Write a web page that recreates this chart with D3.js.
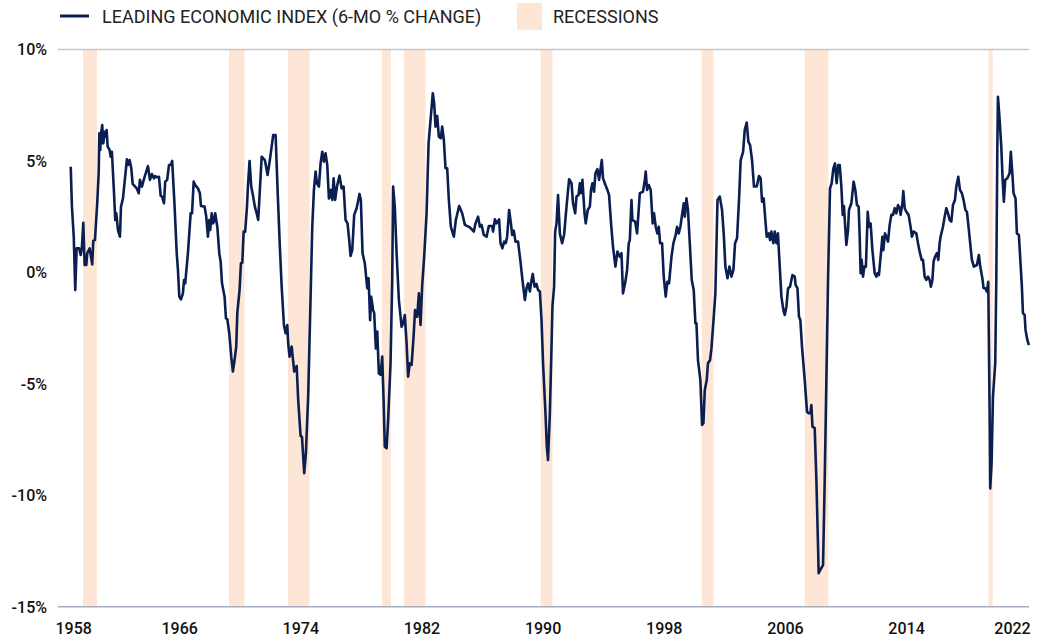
<!DOCTYPE html>
<html>
<head>
<meta charset="utf-8">
<script src="https://cdn.jsdelivr.net/npm/d3@7"></script>
<style>
body { margin: 0; background: #fff; }
.cont text { font-family: Roboto, "Noto Sans", sans-serif; }
.axis text { font-size: 16px; font-weight: 500; fill: #111; }
.legend text { font-size: 18px; fill: #222; }
</style>
</head>
<body>
<div class="cont"></div>
<script>

// leading economic index, 6-month % change (decimal year, value)
var lei = [
[1959.44,4.74],[1959.52,2.95],[1959.64,1.60],[1959.74,-0.79],[1959.83,1.08],[1959.99,1.08],[1960.10,0.78],[1960.18,1.15],[1960.27,2.23],[1960.36,0.33],[1960.47,0.33],[1960.53,0.86],[1960.69,1.08],[1960.86,0.36],[1960.93,1.42],[1961.04,1.45],[1961.19,3.10],[1961.29,4.52],[1961.33,6.24],[1961.39,5.49],[1961.46,6.31],[1961.52,6.61],[1961.59,5.79],[1961.68,6.31],[1961.75,6.09],[1961.81,6.39],[1961.88,5.64],[1962.01,5.49],[1962.08,5.19],[1962.16,5.41],[1962.30,3.55],[1962.38,2.35],[1962.45,2.65],[1962.56,1.90],[1962.69,1.60],[1962.76,2.95],[1962.89,3.32],[1963.15,5.07],[1963.24,4.82],[1963.33,5.04],[1963.44,4.67],[1963.53,3.97],[1963.80,3.77],[1963.93,3.55],[1964.01,4.15],[1964.14,3.85],[1964.32,4.29],[1964.54,4.77],[1964.67,4.15],[1964.80,4.41],[1964.94,4.22],[1965.02,4.32],[1965.13,4.27],[1965.27,4.29],[1965.38,3.43],[1965.47,3.40],[1965.60,3.10],[1965.68,4.07],[1965.81,4.15],[1965.93,4.82],[1966.04,4.82],[1966.14,5.00],[1966.30,2.95],[1966.44,0.86],[1966.52,0.11],[1966.61,-1.09],[1966.72,-1.21],[1966.85,-0.94],[1966.92,-0.34],[1967.00,-0.49],[1967.18,0.86],[1967.36,2.65],[1967.45,2.65],[1967.56,4.07],[1967.66,3.92],[1967.84,3.77],[1967.97,3.55],[1968.04,2.98],[1968.28,2.95],[1968.39,2.50],[1968.50,1.60],[1968.59,2.35],[1968.65,1.90],[1968.75,2.65],[1968.83,2.20],[1968.90,2.28],[1968.98,2.65],[1969.12,2.05],[1969.25,0.86],[1969.34,0.48],[1969.43,-0.49],[1969.60,-1.09],[1969.69,-2.06],[1969.78,-2.10],[1969.91,-2.73],[1970.04,-3.78],[1970.15,-4.45],[1970.26,-3.93],[1970.37,-3.33],[1970.44,-1.83],[1970.59,-0.79],[1970.68,0.41],[1970.77,0.44],[1970.86,1.83],[1970.96,1.83],[1971.08,2.95],[1971.14,3.85],[1971.25,5.00],[1971.36,3.85],[1971.47,3.47],
[1971.60,2.95],[1971.72,2.65],[1971.82,2.35],[1971.93,3.70],[1972.05,5.19],[1972.26,5.04],[1972.44,4.37],[1972.59,5.04],[1972.81,6.16],[1972.97,6.16],[1973.10,3.70],[1973.25,1.15],[1973.37,-0.64],[1973.52,-2.36],[1973.63,-2.73],[1973.74,-2.36],[1973.80,-3.18],[1973.89,-3.78],[1974.03,-3.33],[1974.20,-4.45],[1974.36,-4.20],[1974.46,-5.72],[1974.62,-7.34],[1974.71,-7.37],[1974.86,-9.01],[1974.97,-8.12],[1975.12,-5.58],[1975.28,-1.09],[1975.39,2.05],[1975.50,3.70],[1975.61,4.52],[1975.70,4.00],[1975.83,3.85],[1975.94,4.89],[1976.05,5.41],[1976.16,4.97],[1976.27,5.34],[1976.38,4.82],[1976.49,3.32],[1976.62,3.70],[1976.71,3.25],[1976.80,4.22],[1976.90,3.25],[1977.02,3.85],[1977.19,4.34],[1977.33,3.77],[1977.46,3.85],[1977.59,2.35],[1977.72,2.20],[1977.83,1.45],[1977.92,0.74],[1978.03,1.00],[1978.16,2.58],[1978.32,2.88],[1978.51,3.52],[1978.60,3.25],[1978.71,0.86],[1978.86,0.41],[1979.02,-0.71],[1979.11,-0.26],[1979.21,-2.14],[1979.28,-1.09],[1979.41,-1.69],[1979.48,-1.83],[1979.59,-3.41],[1979.68,-2.66],[1979.79,-4.53],[1979.90,-4.60],[1980.01,-3.78],[1980.10,-5.72],[1980.18,-7.82],[1980.30,-7.89],[1980.40,-6.62],[1980.56,-4.08],[1980.67,-0.34],[1980.73,3.85],[1980.84,2.95],[1980.96,0.86],[1981.11,-1.24],[1981.29,-2.44],[1981.39,-2.28],[1981.50,-1.91],[1981.62,-3.18],[1981.72,-4.68],[1981.83,-4.08],[1981.95,-4.15],[1982.08,-2.88],[1982.18,-1.69],[1982.32,-1.99],[1982.43,-0.94],[1982.54,-2.36],[1982.65,-0.57],[1982.78,0.70],[1982.94,2.65],[1983.07,5.79],[1983.22,6.99],[1983.35,8.04],[1983.44,7.59],[1983.53,6.54],[1983.64,7.02],[1983.75,6.09],[1983.88,6.02],[1983.97,6.54],[1984.08,5.94],[1984.19,4.67],[1984.30,4.67],[1984.41,3.25],
[1984.54,2.05],[1984.74,1.60],[1984.87,2.35],[1985.09,2.98],[1985.29,2.65],[1985.47,2.13],[1985.80,2.02],[1986.06,1.83],[1986.17,2.20],[1986.34,2.50],[1986.46,2.05],[1986.57,2.13],[1986.72,1.68],[1986.90,1.60],[1987.05,2.08],[1987.27,2.08],[1987.33,1.83],[1987.45,2.38],[1987.56,2.20],[1987.73,2.38],[1987.82,1.31],[1987.95,1.08],[1988.06,1.38],[1988.17,1.31],[1988.26,1.60],[1988.39,2.80],[1988.52,2.13],[1988.59,1.68],[1988.70,1.87],[1988.81,1.38],[1988.98,1.38],[1989.14,0.48],[1989.27,-0.34],[1989.43,-1.24],[1989.54,-0.71],[1989.64,-0.49],[1989.76,-0.86],[1989.87,-0.34],[1989.95,-0.07],[1990.07,-0.64],[1990.20,-0.52],[1990.30,-0.79],[1990.42,-0.86],[1990.53,-2.14],[1990.63,-4.08],[1990.79,-6.32],[1990.88,-7.82],[1990.96,-8.42],[1991.08,-6.32],[1991.19,-3.33],[1991.25,-1.54],[1991.36,-0.64],[1991.43,1.83],[1991.52,2.20],[1991.62,3.47],[1991.74,1.75],[1991.89,1.31],[1992.02,1.68],[1992.18,2.95],[1992.35,4.18],[1992.51,4.00],[1992.61,3.10],[1992.75,2.65],[1992.84,3.40],[1992.97,3.47],[1993.06,4.00],[1993.14,3.55],[1993.23,4.15],[1993.37,2.65],[1993.45,2.20],[1993.58,2.80],[1993.72,2.95],[1993.80,3.70],[1993.89,4.00],[1994.00,3.62],[1994.09,4.45],[1994.22,4.63],[1994.33,4.15],[1994.42,4.59],[1994.51,5.04],[1994.59,4.22],[1994.75,3.92],[1994.88,3.70],[1994.99,3.47],[1995.12,2.20],[1995.25,1.15],[1995.41,0.26],[1995.54,0.93],[1995.70,0.70],[1995.81,0.86],[1995.91,-0.94],[1996.05,-0.49],[1996.18,0.11],[1996.29,1.31],[1996.36,1.45],[1996.47,3.25],[1996.53,2.35],[1996.71,2.28],[1996.84,1.75],[1997.02,3.55],[1997.23,3.62],[1997.35,4.15],[1997.41,4.52],[1997.50,3.70],[1997.61,3.92],
[1997.74,3.70],[1997.87,2.20],[1997.96,2.65],[1998.07,2.05],[1998.18,1.75],[1998.27,2.05],[1998.36,1.31],[1998.49,1.31],[1998.60,-0.19],[1998.73,-1.09],[1998.84,-0.42],[1998.95,-0.49],[1999.11,0.70],[1999.24,1.31],[1999.39,1.68],[1999.48,2.05],[1999.59,1.75],[1999.70,2.05],[1999.81,2.58],[1999.92,3.10],[1999.99,2.50],[2000.10,3.32],[2000.20,2.80],[2000.32,1.31],[2000.45,-0.34],[2000.58,-0.79],[2000.69,-2.28],[2000.76,-2.28],[2000.86,-3.93],[2001.02,-4.83],[2001.13,-6.85],[2001.22,-6.77],[2001.31,-5.28],[2001.44,-4.83],[2001.52,-4.08],[2001.66,-3.93],[2001.75,-3.41],[2001.92,-1.83],[2002.01,-0.94],[2002.15,3.25],[2002.30,3.40],[2002.45,2.80],[2002.56,1.75],[2002.67,0.26],[2002.81,-0.26],[2002.94,0.26],[2003.07,-0.19],[2003.20,0.11],[2003.31,1.31],[2003.44,1.53],[2003.57,3.25],[2003.68,5.04],[2003.84,5.41],[2003.95,6.39],[2004.08,6.72],[2004.19,5.86],[2004.30,5.72],[2004.43,5.04],[2004.56,3.85],[2004.74,3.85],[2004.89,4.32],[2005.00,4.22],[2005.09,3.17],[2005.20,3.32],[2005.31,2.35],[2005.40,1.60],[2005.53,1.75],[2005.62,1.45],[2005.71,1.83],[2005.84,1.31],[2005.93,1.83],[2006.04,1.31],[2006.14,1.75],[2006.26,0.26],[2006.37,-1.09],[2006.50,-1.69],[2006.59,-1.91],[2006.70,-1.54],[2006.81,-0.71],[2006.94,-0.64],[2007.10,-0.12],[2007.25,-0.19],[2007.31,-0.57],[2007.43,-0.71],[2007.53,-1.99],[2007.62,-2.14],[2007.73,-3.33],[2007.91,-4.83],[2008.06,-6.25],[2008.17,-6.32],[2008.28,-6.32],[2008.35,-5.95],[2008.42,-6.92],[2008.57,-6.99],[2008.68,-9.31],[2008.79,-12.31],[2008.83,-13.50],[2008.94,-13.35],[2009.12,-13.13],[2009.23,-9.31],[2009.34,-4.83],[2009.45,-0.34],[2009.58,3.77],[2009.69,4.00],[2009.80,4.67],[2009.91,4.89],[2010.02,4.00],[2010.13,4.82],[2010.22,4.82],
[2010.33,3.85],[2010.42,2.58],[2010.50,2.98],[2010.57,2.20],[2010.66,1.23],[2010.77,1.90],[2010.83,2.80],[2010.99,3.10],[2011.14,4.07],[2011.25,3.70],[2011.36,3.02],[2011.47,2.95],[2011.54,1.60],[2011.60,-0.04],[2011.67,0.56],[2011.76,-0.19],[2011.85,0.26],[2011.95,0.26],[2012.07,2.72],[2012.15,2.05],[2012.26,2.20],[2012.38,1.00],[2012.53,-0.04],[2012.64,-0.19],[2012.71,-0.04],[2012.81,-0.12],[2012.92,0.70],[2013.04,1.60],[2013.10,1.00],[2013.21,1.75],[2013.30,1.60],[2013.41,1.38],[2013.52,2.13],[2013.63,2.58],[2013.74,2.58],[2013.85,2.88],[2013.96,2.65],[2014.07,3.02],[2014.18,2.88],[2014.24,2.58],[2014.36,3.10],[2014.42,3.65],[2014.51,2.88],[2014.62,2.72],[2014.77,2.58],[2014.90,2.05],[2014.99,1.60],[2015.10,1.83],[2015.28,1.75],[2015.39,1.31],[2015.50,0.93],[2015.63,0.56],[2015.72,0.56],[2015.83,-0.19],[2015.94,-0.34],[2016.05,-0.19],[2016.16,-0.34],[2016.24,-0.64],[2016.34,-0.34],[2016.42,0.48],[2016.51,0.70],[2016.64,0.86],[2016.73,0.56],[2016.82,1.31],[2016.88,1.60],[2017.04,2.05],[2017.15,2.50],[2017.26,2.88],[2017.37,2.65],[2017.48,2.35],[2017.59,2.28],[2017.70,3.02],[2017.83,3.25],[2017.92,3.85],[2018.05,4.29],[2018.16,3.70],[2018.29,3.55],[2018.40,3.25],[2018.52,2.80],[2018.62,2.72],[2018.75,1.90],[2018.86,1.15],[2018.95,0.56],[2019.08,0.26],[2019.28,0.33],[2019.41,0.78],[2019.50,0.26],[2019.64,-0.26],[2019.72,-0.71],[2019.83,-0.71],[2019.94,-0.86],[2020.03,-0.42],[2020.12,-6.32],[2020.16,-9.69],[2020.25,-8.56],[2020.34,-5.58],[2020.49,-4.08],[2020.56,-0.34],[2020.63,5.64],[2020.67,7.88],[2020.78,6.84],[2020.89,5.64],[2020.98,4.15],[2021.06,3.17],[2021.15,4.15],[2021.29,4.22],[2021.44,4.45],[2021.52,5.41],[2021.62,4.45],[2021.70,3.55],[2021.83,3.32],[2021.92,1.75],[2022.05,1.68],[2022.16,0.41],[2022.25,-0.64],[2022.32,-1.83],[2022.43,-1.91],[2022.49,-2.58],[2022.61,-3.03],[2022.71,-3.26]
];

// recession periods (decimal years)
var recStart = [1960.25, 1969.89, 1973.78, 1979.99, 1981.44, 1990.48, 2001.11, 2007.91, 2020.05];
var recEnd   = [1961.17, 1970.92, 1975.21, 1980.58, 1982.87, 1991.25, 2001.88, 2009.47, 2020.32];

var xTickYears = [1958, 1966, 1974, 1982, 1990, 1998, 2006, 2014, 2022];
var yTicks = [10, 5, 0, -5, -10, -15];

var legendLabels = ["LEADING ECONOMIC INDEX (6-MO % CHANGE)", "RECESSIONS"];


var w = 1038,
h = 638;
var plotLeft = 58, plotRight = 1029, plotTop = 49.5, plotBottom = 606.7;

var navy = "#0b1e50",
peach = "#fde6d6";

var x = d3.scaleLinear().
domain([1958.6, 2022.72]).
range([plotLeft, plotRight]);

var y = d3.scaleLinear().
domain([-15, 10]).
range([plotBottom, plotTop]);

var svg = d3.select(".cont").append("svg").
attr("width", w).
attr("height", h);

// recession bands
svg.append("g").
selectAll("rect").
data(d3.zip(recStart, recEnd)).
enter().append("rect").
attr("x", function (d) {return x(d[0]);}).
attr("width", function (d) {return x(d[1]) - x(d[0]);}).
attr("y", y(10)).
attr("height", y(-15) - y(10)).
attr("fill", peach);

// top gridline and base line
svg.append("line").
attr("x1", plotLeft).attr("x2", plotRight).
attr("y1", y(10)).attr("y2", y(10)).
attr("stroke", "#c5c7cc").
attr("stroke-width", 1.5);

svg.append("line").
attr("x1", plotLeft).attr("x2", plotRight).
attr("y1", y(-15)).attr("y2", y(-15)).
attr("stroke", "#a6adbf").
attr("stroke-width", 1.5);

// y axis
var yAxis = d3.axisLeft(y).
tickValues(yTicks).
tickSize(0).
tickPadding(11).
tickFormat(function (d) {return d + "%";});

svg.append("g").
attr("class", "axis").
attr("transform", "translate(" + plotLeft + ",0)").
call(yAxis).
call(function (g) {g.select(".domain").remove();}).
selectAll("text").attr("dy", "0.34em");

// x axis, labels sit mid-year; first and last are kept inside the plot
var xAxis = d3.axisBottom(x).
tickValues(xTickYears.map(function (d) {return d + 0.6;})).
tickSize(0).
tickPadding(16).
tickFormat(function (d) {return Math.floor(d);});

var gx = svg.append("g").
attr("class", "axis").
attr("transform", "translate(0," + plotBottom + ")").
call(xAxis);
gx.select(".domain").remove();
gx.selectAll(".tick text").
attr("text-anchor", function (d, i, n) {
  if (i == 0) return "start";
  if (i == n.length - 1) return "end";
  return "middle";
}).
attr("dx", function (d, i, n) {
  if (i == 0) return -3;
  if (i == n.length - 1) return 3;
  return 0;
});

// the series
var line = d3.line().
x(function (d) {return x(d[0]);}).
y(function (d) {return y(d[1]);});

svg.append("path").
datum(lei).
attr("d", line).
attr("fill", "none").
attr("stroke", navy).
attr("stroke-width", 2.6).
attr("stroke-linejoin", "round");

// legend
var lg = svg.append("g").attr("class", "legend");
lg.append("line").
attr("x1", 60).attr("x2", 89).
attr("y1", 16).attr("y2", 16).
attr("stroke", navy).
attr("stroke-width", 3);
lg.append("text").
attr("x", 102).attr("y", 22.5).
text(legendLabels[0]);
lg.append("rect").
attr("x", 517).attr("y", 3).
attr("width", 25).attr("height", 27).
attr("fill", peach);
lg.append("text").
attr("x", 553).attr("y", 22.5).
text(legendLabels[1]);

</script>
</body>
</html>
